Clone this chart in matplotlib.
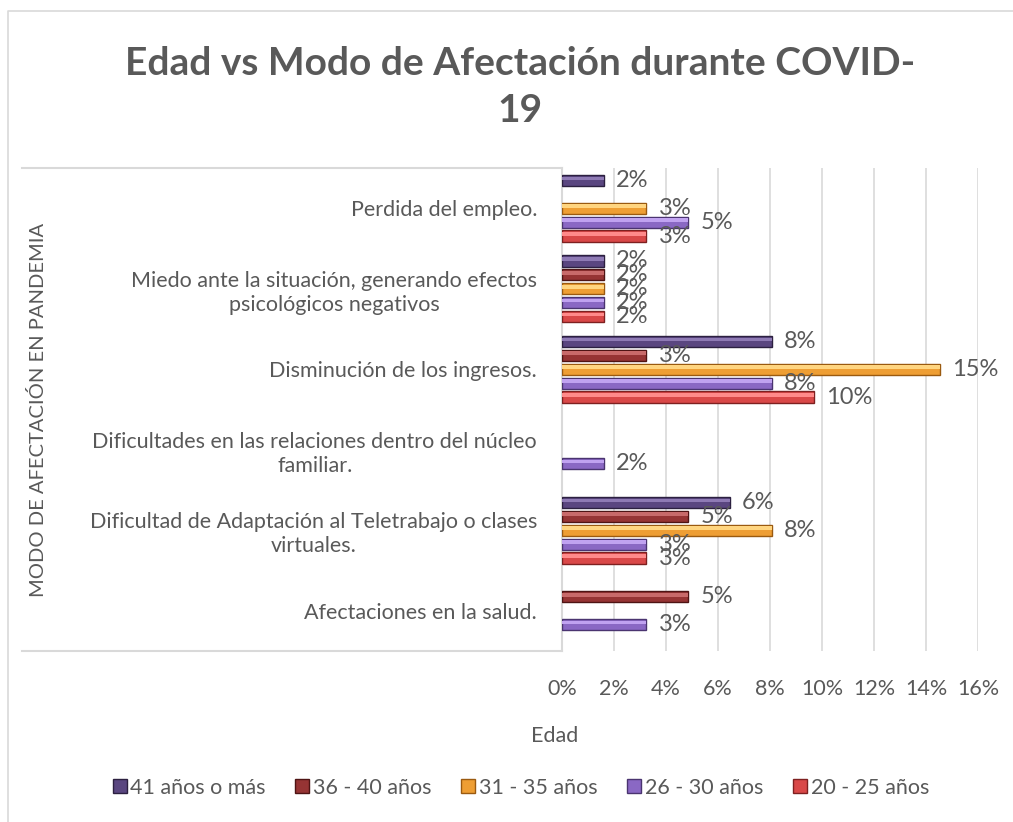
import matplotlib
matplotlib.use("Agg")
import matplotlib.pyplot as plt
from matplotlib.lines import Line2D
import numpy as np

plt.rcParams["font.family"] = ["Lato", "DejaVu Sans"]

categorias = [
    "Afectaciones en la salud.",
    "Dificultad de Adaptación al Teletrabajo o clases\nvirtuales.",
    "Dificultades en las relaciones dentro del núcleo\nfamiliar.",
    "Disminución de los ingresos.",
    "Miedo ante la situación, generando efectos\npsicológicos negativos",
    "Perdida del empleo.",
]
series = ["20 - 25 años", "26 - 30 años", "31 - 35 años", "36 - 40 años", "41 años o más"]

# porcentajes (n/62)
v_20_25 = [0.0, 3.23, 0.0, 9.68, 1.61, 3.23]
v_26_30 = [3.23, 3.23, 1.61, 8.06, 1.61, 4.84]
v_31_35 = [0.0, 8.06, 0.0, 14.52, 1.61, 3.23]
v_36_40 = [4.84, 4.84, 0.0, 3.23, 1.61, 0.0]
v_41_mas = [0.0, 6.45, 0.0, 8.06, 1.61, 1.61]
valores = [v_20_25, v_26_30, v_31_35, v_36_40, v_41_mas]

# (medio, borde oscuro, brillo)
colores = [
    ("#D94848", "#7E2020", "#FF8A8A"),
    ("#8A68C4", "#4A3470", "#C0A2F0"),
    ("#EE9E34", "#9A5A10", "#FFD580"),
    ("#963434", "#4E1414", "#C86A6A"),
    ("#5A4680", "#2C2040", "#8E7AB4"),
]
gris = "#595959"

fig = plt.figure(figsize=(10.13, 8.22), dpi=100)
ax = fig.add_axes([562 / 1013, 1 - 651 / 822, 416 / 1013, 483 / 822])

y = np.arange(len(categorias))
paso = 0.173
alto = 0.14
for i, (vals, (c_mid, c_dark, c_light)) in enumerate(zip(valores, colores)):
    pos = y + (i - 2) * paso
    vals = np.array(vals)
    m = vals > 0
    ax.barh(pos[m], vals[m], height=alto, color=c_mid, edgecolor=c_dark, linewidth=1.0, zorder=3)
    ax.barh(pos[m] + alto * 0.18, vals[m], height=alto * 0.32, color=c_light, linewidth=0, zorder=4)
    for p, v in zip(pos[m], vals[m]):
        ax.annotate(f"{v:.0f}%", (v, p), xytext=(9, 0), textcoords="offset points",
                    va="center", ha="left", fontsize=17, color=gris, zorder=5)

ax.set_xlim(0, 16)
ax.set_ylim(-0.5, 5.5)
ax.set_xticks(np.arange(0, 17, 2))
ax.set_xticklabels([f"{t}%" for t in range(0, 17, 2)])
ax.set_yticks(y)
ax.set_yticklabels(categorias, multialignment="center", linespacing=1.25)
ax.tick_params(axis="x", length=0, pad=20, labelsize=15.5, labelcolor=gris)
ax.tick_params(axis="y", length=0, pad=18, labelsize=15.5, labelcolor=gris)
ax.grid(axis="x", color="#D9D9D9", linewidth=1.2, zorder=0)
for s in ["top", "right", "bottom"]:
    ax.spines[s].set_visible(False)
ax.spines["left"].set_color("#D9D9D9")
ax.spines["left"].set_linewidth(1.5)

# recuadro de la zona de categorias
for yy in (168, 651):
    fig.add_artist(Line2D([22 / 1013, 562 / 1013], [1 - yy / 822, 1 - yy / 822],
                          color="#D9D9D9", linewidth=1.5))
# marco exterior
fig.add_artist(Line2D([8 / 1013, 8 / 1013, 1.0], [0.0, 1 - 11 / 822, 1 - 11 / 822],
                      color="#D9D9D9", linewidth=1.2))

fig.text(520 / 1013, 1 - 87 / 822, "Edad vs Modo de Afectación durante COVID-\n19",
         ha="center", va="center", fontsize=28, fontweight="bold", color=gris,
         linespacing=1.4)
fig.text(555 / 1013, 1 - 736 / 822, "Edad", ha="center", va="center", fontsize=15.5, color=gris)
fig.text(38 / 1013, 1 - 410 / 822, "MODO DE AFECTACIÓN EN PANDEMIA", rotation=90,
         ha="center", va="center", fontsize=14.5, color=gris)

orden = [4, 3, 2, 1, 0]
handles = [Line2D([], [], marker="s", linestyle="", markersize=10,
                  markerfacecolor=colores[k][0], markeredgecolor=colores[k][1])
           for k in orden]
fig.legend(handles, [series[k] for k in orden], loc="center", ncol=5,
           bbox_to_anchor=(520 / 1013, 1 - 788 / 822), frameon=False,
           fontsize=15.5, labelcolor=gris, handletextpad=0.1, columnspacing=1.3,
           handlelength=0.8)

fig.savefig("out.png", dpi=100)
